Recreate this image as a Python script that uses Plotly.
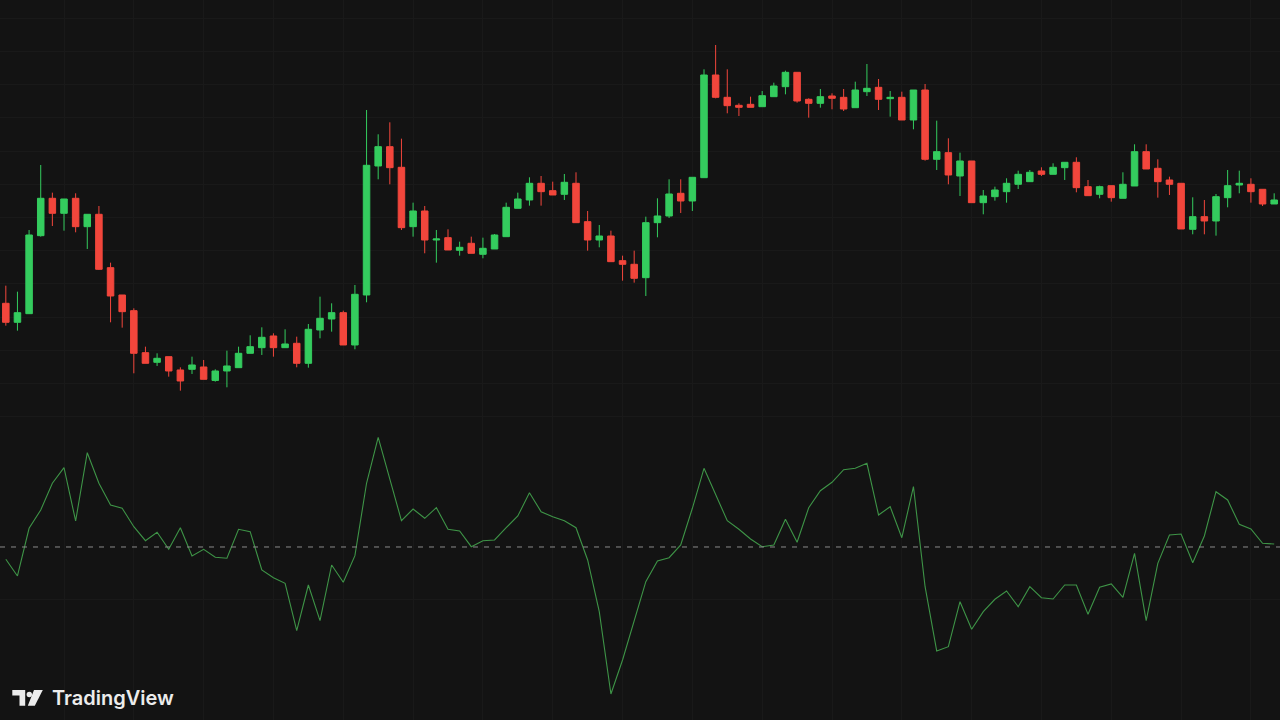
import plotly.graph_objects as go
from plotly.subplots import make_subplots

# ---------------- data ----------------
idx = list(range(110))

open_ = [124.17, 119.42, 121.58, 141.08, 150.42, 146.67, 150.42, 143.33, 146.42, 133.08,
         126.25, 122.33, 111.83, 109.42, 110.83, 107.5, 107.67, 108.25, 104.88, 107.25,
         108.08, 111.67, 113.08, 116.0, 113.08, 114.17, 109.17, 117.5, 120.25, 121.83,
         113.75, 126.25, 158.5, 163.33, 158.17, 143.33, 147.25, 140.0, 140.58, 137.42,
         139.17, 136.42, 137.75, 140.83, 147.92, 150.0, 154.17, 152.33, 151.42, 154.17,
         144.58, 140.0, 141.0, 134.83, 133.92, 130.58, 144.33, 146.0, 151.67, 149.75,
         155.58, 181.25, 175.67, 173.67, 173.92, 173.33, 175.83, 178.33, 181.92, 175.17,
         174.17, 176.0, 175.67, 173.08, 177.08, 178.17, 175.33, 175.67, 170.0, 177.5,
         160.17, 161.83, 156.0, 159.75, 149.33, 150.83, 152.08, 153.92, 154.58, 157.25,
         156.42, 158.08, 159.42, 153.33, 151.42, 153.58, 150.42, 153.5, 162.08, 157.92,
         155.0, 154.17, 142.67, 145.83, 144.75, 150.58, 153.75, 153.92, 152.67, 149.0]

high = [128.58, 127.08, 142.5, 158.75, 151.83, 150.25, 151.67, 146.42, 148.5, 134.33,
        126.25, 122.92, 113.33, 111.67, 110.83, 108.17, 110.83, 110.0, 107.67, 112.33,
        113.33, 116.17, 118.17, 116.67, 117.67, 115.83, 119.0, 125.83, 124.17, 122.33,
        128.75, 172.5, 166.42, 169.42, 165.33, 149.33, 148.5, 142.5, 142.67, 139.58,
        140.83, 140.58, 141.5, 149.33, 151.83, 155.67, 156.0, 154.58, 156.5, 156.92,
        147.25, 143.75, 142.33, 136.08, 137.33, 145.83, 150.42, 155.17, 155.17, 155.67,
        182.67, 188.75, 182.67, 174.17, 175.83, 177.25, 179.33, 182.33, 181.92, 175.42,
        177.75, 176.67, 177.75, 179.58, 184.0, 180.25, 177.25, 177.08, 177.5, 179.0,
        169.83, 165.42, 161.83, 159.75, 152.5, 153.33, 155.42, 157.33, 157.5, 158.17,
        159.17, 159.42, 160.67, 155.0, 153.58, 153.58, 156.92, 163.92, 163.92, 160.17,
        155.83, 154.17, 150.67, 150.0, 151.5, 157.5, 157.33, 155.42, 152.67, 151.67]

low = [118.58, 117.33, 121.5, 140.83, 143.5, 142.33, 141.92, 137.75, 132.5, 119.42,
       118.08, 106.67, 109.17, 108.5, 105.83, 102.33, 106.5, 105.17, 104.58, 103.17,
       108.08, 111.67, 111.25, 110.83, 113.08, 108.17, 108.08, 115.42, 117.08, 113.75,
       112.67, 124.42, 155.17, 153.92, 142.5, 140.83, 136.67, 134.33, 137.5, 136.08,
       136.67, 135.42, 137.75, 140.83, 147.92, 148.58, 148.58, 151.25, 150.0, 144.33,
       137.33, 138.17, 134.58, 129.83, 129.33, 126.0, 140.67, 145.5, 146.75, 147.25,
       155.58, 175.42, 171.67, 171.0, 173.17, 173.33, 175.83, 176.42, 174.33, 170.58,
       173.08, 172.67, 172.25, 173.08, 176.0, 172.5, 170.83, 170.0, 167.67, 159.83,
       157.5, 153.92, 151.0, 149.33, 146.42, 149.83, 149.33, 152.75, 154.58, 156.0,
       156.42, 155.0, 151.92, 151.08, 150.42, 149.58, 150.42, 153.5, 157.75, 150.58,
       151.25, 142.75, 141.42, 141.42, 141.08, 148.17, 151.67, 149.33, 148.5, 149.0]

close = [119.42, 121.83, 141.25, 150.42, 146.67, 150.25, 143.33, 146.42, 132.67, 126.0,
         122.08, 111.67, 109.17, 110.42, 107.25, 104.75, 108.75, 105.17, 107.25, 108.5,
         111.67, 113.33, 115.67, 113.08, 114.0, 109.17, 117.67, 120.42, 121.83, 113.75,
         126.42, 158.67, 163.33, 158.08, 143.08, 147.25, 140.0, 140.25, 137.5, 138.17,
         136.67, 137.92, 141.25, 148.17, 150.25, 154.17, 152.08, 151.25, 154.42, 144.33,
         140.0, 141.0, 134.58, 133.92, 130.42, 144.33, 146.0, 151.5, 149.75, 155.67,
         181.25, 175.67, 173.58, 173.17, 173.17, 176.08, 178.5, 181.92, 174.75, 174.17,
         175.83, 175.42, 172.75, 177.5, 177.92, 175.17, 175.67, 170.0, 177.5, 160.17,
         162.08, 156.25, 159.75, 149.33, 151.0, 152.5, 154.17, 156.42, 156.92, 156.42,
         158.17, 159.42, 153.08, 151.08, 153.33, 150.58, 153.92, 162.08, 157.75, 154.58,
         153.92, 142.75, 145.83, 144.75, 150.83, 153.58, 154.17, 152.08, 149.0, 150.0]

oscillator = [-6.15, -14.5, 9.35, 18.5, 31.85, 39.65, 13.0, 47.15, 31.85, 21.0,
              19.35, 10.15, 3.15, 7.35, -1.15, 9.65, -4.5, -1.15, -5.15, -5.65,
              8.85, 7.65, -11.5, -15.35, -18.15, -41.85, -19.0, -36.85, -9.0, -17.65,
              -4.35, 31.85, 54.85, 33.85, 13.15, 19.0, 14.35, 19.65, 8.85, 8.0,
              0.15, 3.15, 3.5, 9.65, 15.5, 27.15, 17.65, 15.15, 13.15, 9.65,
              -6.5, -32.35, -73.5, -56.5, -36.5, -17.35, -7.0, -5.35, 1.0, 19.35,
              39.35, 26.35, 13.15, 8.85, 4.0, 0.15, 1.0, 13.85, 2.35, 19.65,
              28.15, 32.35, 38.65, 39.35, 41.85, 16.0, 20.15, 4.65, 30.15, -19.85,
              -52.0, -49.85, -27.35, -41.15, -32.35, -26.15, -22.0, -29.85, -19.85, -25.35,
              -26.0, -19.0, -19.0, -33.65, -20.15, -18.5, -25.15, -3.15, -36.85, -8.15,
              6.0, 6.5, -7.85, 5.5, 27.65, 23.5, 11.35, 9.0, 1.85, 1.5]

brand = "TradingView"

# ---------------- style ----------------
BG = "#131313"
GRID = "#191919"
UP = "#34cc5e"
DOWN = "#f2463c"
OSC = "#3e9447"
W, H = 1280, 720

fig = make_subplots(rows=2, cols=1, shared_xaxes=True, vertical_spacing=0,
                    row_heights=[0.6065, 0.3935])

fig.add_trace(go.Candlestick(
    x=idx, open=open_, high=high, low=low, close=close,
    increasing=dict(line=dict(color=UP, width=1), fillcolor=UP),
    decreasing=dict(line=dict(color=DOWN, width=1), fillcolor=DOWN),
    whiskerwidth=0, hoverinfo="skip", showlegend=False,
), row=1, col=1)

fig.add_trace(go.Scatter(
    x=idx, y=oscillator, mode="lines",
    line=dict(color=OSC, width=1.1), hoverinfo="skip", showlegend=False,
), row=2, col=1)

# zero reference line of the oscillator
fig.add_hline(y=0, line=dict(color="#8a8a8a", width=1, dash="5px,6px"), row=2, col=1)

axis_common = dict(showticklabels=False, zeroline=False, showline=False,
                   ticks="", gridcolor=GRID, gridwidth=1, fixedrange=True)

fig.update_xaxes(range=[-0.5, 109.5], tick0=5, dtick=6, showgrid=True,
                 rangeslider=dict(visible=False), **axis_common)
fig.update_yaxes(range=[90.825, 200], tick0=129, dtick=8.3, showgrid=True,
                 row=1, col=1, **axis_common)
fig.update_yaxes(range=[-86.5, 55.15], tick0=-26.5, dtick=81.5, showgrid=True,
                 row=2, col=1, **axis_common)

# ---------------- TradingView watermark ----------------
def px(x):
    return x / W

def py(y):
    return 1 - y / H

LOGO = "#ececec"
shapes = []
# "T" part
t_path = (f"M{px(12.3)},{py(690)} L{px(25.2)},{py(690)} L{px(25.2)},{py(705.7)} "
          f"L{px(19.5)},{py(705.7)} L{px(19.5)},{py(695.5)} L{px(12.3)},{py(695.5)} Z")
shapes.append(dict(type="path", path=t_path, xref="paper", yref="paper",
                   fillcolor=LOGO, line=dict(width=0), layer="above"))
# dot
shapes.append(dict(type="circle", xref="paper", yref="paper",
                   x0=px(26.6), x1=px(32.0), y0=py(697.2), y1=py(691.8),
                   fillcolor=LOGO, line=dict(width=0), layer="above"))
# slanted stroke
v_path = (f"M{px(34.0)},{py(690)} L{px(42.8)},{py(690)} L{px(34.8)},{py(705.7)} "
          f"L{px(27.8)},{py(705.7)} Z")
shapes.append(dict(type="path", path=v_path, xref="paper", yref="paper",
                   fillcolor=LOGO, line=dict(width=0), layer="above"))

fig.update_layout(
    width=W, height=H,
    margin=dict(l=0, r=0, t=0, b=0),
    paper_bgcolor=BG, plot_bgcolor=BG,
    showlegend=False, hovermode=False,
    boxgap=0.2,
    shapes=list(fig.layout.shapes) + shapes,
    annotations=[dict(text=brand, xref="paper", yref="paper",
                      x=px(49.5), y=py(697.5), xanchor="left", yanchor="middle",
                      showarrow=False,
                      font=dict(family="Inter, Lato, sans-serif", size=20,
                                color=LOGO, weight=600))],
)

fig.write_html("out.html", config={"displayModeBar": False, "staticPlot": True},
               post_script="document.body.style.margin='0';document.body.style.overflow='hidden';document.body.style.background='#131313';")
